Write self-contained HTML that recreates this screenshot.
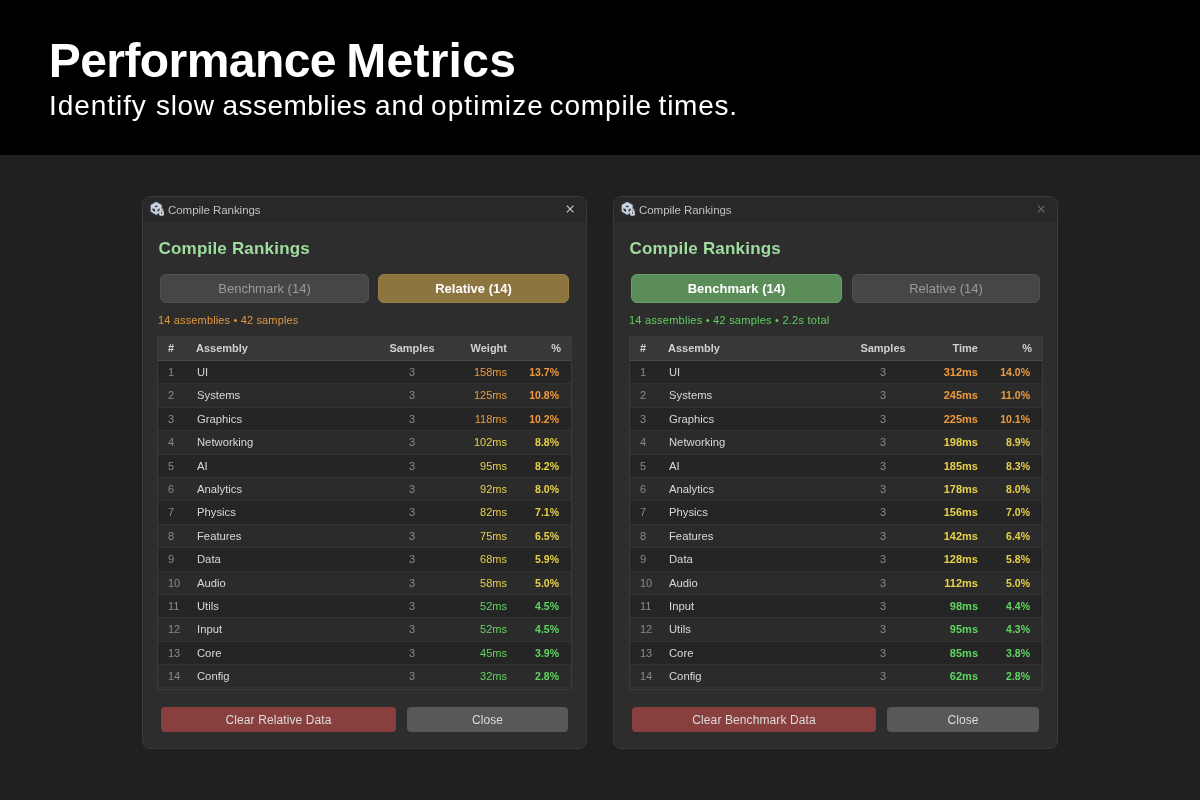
<!DOCTYPE html>
<html><head><meta charset="utf-8"><title>Performance Metrics</title>
<style>
*{box-sizing:border-box;margin:0;padding:0}
html,body{width:1200px;height:800px;overflow:hidden;background:#202020;font-family:"Liberation Sans",sans-serif;}
.top{will-change:transform;position:absolute;left:0;top:0;width:1200px;height:155px;background:#000;}
.title{position:absolute;top:33px;font-size:48px;font-weight:bold;color:#fff;white-space:nowrap;line-height:56px}
.sub{position:absolute;top:89px;font-size:28px;color:#fff;white-space:nowrap;line-height:34px}
.win{will-change:transform;position:absolute;top:196px;width:445px;height:553px;background:#2d2d2d;border:1px solid #3a3a3a;border-radius:8px;overflow:hidden}
.tb{position:absolute;left:0;top:0;width:100%;height:25px;background:#282828}
.ico{position:absolute;left:7px;top:4px;overflow:visible}
.tt{position:absolute;left:25px;top:6px;font-size:11.5px;letter-spacing:-0.05px;color:#c0c0c0;line-height:15px;white-space:nowrap}
.x{position:absolute;left:423px;top:8px;overflow:visible;color:#d0d0d0}
.wr .x{color:#6a6a6a}
.h1{position:absolute;left:15.5px;top:41px;font-size:17px;letter-spacing:0.2px;font-weight:bold;color:#9fdc9f;line-height:22px;white-space:nowrap}
.tab{position:absolute;top:77px;height:29px;border-radius:6px;background:#464646;border:1px solid #525252;color:#9a9a9a;font-size:13px;text-align:center;line-height:27px}
.t1{left:17px;width:209px}.t2{left:235px;width:191px}
.wr .t1{width:211px}.wr .t2{left:238px;width:188px}
.on-y{background:#8d7540;border-color:#9c8044;color:#fff;font-weight:bold}
.on-g{background:#5b8d58;border-color:#69a066;color:#fff;font-weight:bold}
.stat{position:absolute;left:15px;top:116px;font-size:11px;letter-spacing:0.15px;line-height:14px;white-space:nowrap}
.so{color:#e0963c}.sg{color:#5fd05f;letter-spacing:0.24px}
.tbl{position:absolute;left:14px;top:139px;width:415px;height:354px;border:1px solid #3b3b3b;background:#2a2a2a}
.hd{position:relative;height:24px;background:#383838;border-bottom:1px solid #4a4a4a;font-weight:bold;color:#d0d0d0;font-size:11px;line-height:23px}
.r{position:relative;height:23.4px;font-size:11px;line-height:23px;color:#d8d8d8;border-bottom:1px solid #323232}
.r.a{background:#252525}.r.b{background:#2b2b2b}
.r span,.hd span{position:absolute;top:0;white-space:nowrap}
.c1{left:10px;color:#8a8a8a}.hd .c1{color:#d0d0d0}
.c2{left:39px}
.hd .c2{left:38px}
.r .c2{font-size:11.25px}
.c3{left:215px;width:76px;text-align:center;color:#8a8a8a}.hd .c3{color:#d0d0d0}
.c4{right:64px;text-align:right}
.r .c4{font-size:11px}
.c5{right:10px;text-align:right;font-weight:bold}
.r .c5{font-size:10.5px;right:12px}
.o{color:#ee9a3c}.y{color:#e8d04a}.g{color:#5fd65f}
.bt{font-weight:bold}
.btn{position:absolute;top:510px;height:25px;border-radius:4px;font-size:12px;text-align:center;line-height:27px;color:#dcdcdc;letter-spacing:0.1px}
.red{left:18px;width:235px;background:#8a3f3f}
.gray{left:264px;width:161px;background:#585858}
.wr .red{width:244px}.wr .gray{left:273px;width:152px}

.wr .tbl{left:15px;width:414px}
.wl .c3{left:216px}

</style></head><body>
<div class="top"><span class="title" style="left:48.75px;letter-spacing:-0.575px">Performance</span><span class="title" style="left:346.25px;letter-spacing:0.25px">Metrics</span><span class="sub" style="left:49.1px;letter-spacing:0.929px">Identify</span><span class="sub" style="left:156px;letter-spacing:0.667px">slow</span><span class="sub" style="left:222.6px;letter-spacing:0.433px">assemblies</span><span class="sub" style="left:375px;letter-spacing:1.0px">and</span><span class="sub" style="left:431px;letter-spacing:1.08px">optimize</span><span class="sub" style="left:549.6px;letter-spacing:0.85px">compile</span><span class="sub" style="left:658.6px;letter-spacing:0.76px">times.</span></div>
<div class="win wl" style="left:142px">
<div class="tb"><svg class="ico" viewBox="0 0 16 16" width="16" height="16"><path d="M6.2 0.6L11.9 3.8V10.6L6.2 14L0.5 10.6V3.8Z" fill="#5c7fa8" opacity="0.55" style="filter:blur(0.9px)"/><path d="M6.2 0.9L11.6 4V10.4L6.2 13.7L0.8 10.4V4Z" fill="#ccd6e3"/><path d="M6.2 4.2L8.2 5.4L6.2 6.6L4.2 5.4Z" fill="#46505e"/><path d="M2.5 7.0L5.0 8.4V11.0L2.5 9.6Z" fill="#2e3238"/><path d="M9.7 7.2L7.5 8.5V11.0L9.7 9.7Z" fill="#3a4048"/><path d="M6.2 7.2V13.4" stroke="#aab6c6" stroke-width="0.6"/><path d="M10.2 10.2V9.3a1.35 1.35 0 0 1 2.7 0V10.2" fill="none" stroke="#d2d2d6" stroke-width="1.1"/><rect x="9.2" y="9.9" width="4.7" height="4.8" rx="1.2" fill="#d4d4d8"/><path d="M11.55 11.1a0.7 0.7 0 0 1 0.35 1.3V13.2H11.2V12.4a0.7 0.7 0 0 1 0.35-1.3Z" fill="#4a4a50"/></svg><span class="tt">Compile Rankings</span><svg class="x" viewBox="0 0 8 8" width="8" height="8"><path d="M0.85 0.7L7.45 7.3M7.45 0.7L0.85 7.3" stroke="currentColor" stroke-width="1.1" fill="none"/></svg></div>
<div class="h1">Compile Rankings</div>
<div class="tab t1">Benchmark (14)</div><div class="tab on-y t2">Relative (14)</div>
<div class="stat so">14 assemblies • 42 samples</div>
<div class="tbl">
<div class="hd"><span class="c1">#</span><span class="c2">Assembly</span><span class="c3">Samples</span><span class="c4">Weight</span><span class="c5">%</span></div>
<div class="r a"><span class="c1">1</span><span class="c2">UI</span><span class="c3">3</span><span class="c4 o">158ms</span><span class="c5 o">13.7%</span></div>
<div class="r b"><span class="c1">2</span><span class="c2">Systems</span><span class="c3">3</span><span class="c4 o">125ms</span><span class="c5 o">10.8%</span></div>
<div class="r a"><span class="c1">3</span><span class="c2">Graphics</span><span class="c3">3</span><span class="c4 o">118ms</span><span class="c5 o">10.2%</span></div>
<div class="r b"><span class="c1">4</span><span class="c2">Networking</span><span class="c3">3</span><span class="c4 y">102ms</span><span class="c5 y">8.8%</span></div>
<div class="r a"><span class="c1">5</span><span class="c2">AI</span><span class="c3">3</span><span class="c4 y">95ms</span><span class="c5 y">8.2%</span></div>
<div class="r b"><span class="c1">6</span><span class="c2">Analytics</span><span class="c3">3</span><span class="c4 y">92ms</span><span class="c5 y">8.0%</span></div>
<div class="r a"><span class="c1">7</span><span class="c2">Physics</span><span class="c3">3</span><span class="c4 y">82ms</span><span class="c5 y">7.1%</span></div>
<div class="r b"><span class="c1">8</span><span class="c2">Features</span><span class="c3">3</span><span class="c4 y">75ms</span><span class="c5 y">6.5%</span></div>
<div class="r a"><span class="c1">9</span><span class="c2">Data</span><span class="c3">3</span><span class="c4 y">68ms</span><span class="c5 y">5.9%</span></div>
<div class="r b"><span class="c1">10</span><span class="c2">Audio</span><span class="c3">3</span><span class="c4 y">58ms</span><span class="c5 y">5.0%</span></div>
<div class="r a"><span class="c1">11</span><span class="c2">Utils</span><span class="c3">3</span><span class="c4 g">52ms</span><span class="c5 g">4.5%</span></div>
<div class="r b"><span class="c1">12</span><span class="c2">Input</span><span class="c3">3</span><span class="c4 g">52ms</span><span class="c5 g">4.5%</span></div>
<div class="r a"><span class="c1">13</span><span class="c2">Core</span><span class="c3">3</span><span class="c4 g">45ms</span><span class="c5 g">3.9%</span></div>
<div class="r b"><span class="c1">14</span><span class="c2">Config</span><span class="c3">3</span><span class="c4 g">32ms</span><span class="c5 g">2.8%</span></div>
</div>
<div class="btn red">Clear Relative Data</div><div class="btn gray">Close</div>
</div>
<div class="win wr" style="left:613px">
<div class="tb"><svg class="ico" viewBox="0 0 16 16" width="16" height="16"><path d="M6.2 0.6L11.9 3.8V10.6L6.2 14L0.5 10.6V3.8Z" fill="#5c7fa8" opacity="0.55" style="filter:blur(0.9px)"/><path d="M6.2 0.9L11.6 4V10.4L6.2 13.7L0.8 10.4V4Z" fill="#ccd6e3"/><path d="M6.2 4.2L8.2 5.4L6.2 6.6L4.2 5.4Z" fill="#46505e"/><path d="M2.5 7.0L5.0 8.4V11.0L2.5 9.6Z" fill="#2e3238"/><path d="M9.7 7.2L7.5 8.5V11.0L9.7 9.7Z" fill="#3a4048"/><path d="M6.2 7.2V13.4" stroke="#aab6c6" stroke-width="0.6"/><path d="M10.2 10.2V9.3a1.35 1.35 0 0 1 2.7 0V10.2" fill="none" stroke="#d2d2d6" stroke-width="1.1"/><rect x="9.2" y="9.9" width="4.7" height="4.8" rx="1.2" fill="#d4d4d8"/><path d="M11.55 11.1a0.7 0.7 0 0 1 0.35 1.3V13.2H11.2V12.4a0.7 0.7 0 0 1 0.35-1.3Z" fill="#4a4a50"/></svg><span class="tt">Compile Rankings</span><svg class="x" viewBox="0 0 8 8" width="8" height="8"><path d="M0.85 0.7L7.45 7.3M7.45 0.7L0.85 7.3" stroke="currentColor" stroke-width="1.1" fill="none"/></svg></div>
<div class="h1">Compile Rankings</div>
<div class="tab on-g t1">Benchmark (14)</div><div class="tab t2">Relative (14)</div>
<div class="stat sg">14 assemblies • 42 samples • 2.2s total</div>
<div class="tbl">
<div class="hd"><span class="c1">#</span><span class="c2">Assembly</span><span class="c3">Samples</span><span class="c4">Time</span><span class="c5">%</span></div>
<div class="r a"><span class="c1">1</span><span class="c2">UI</span><span class="c3">3</span><span class="c4 o bt">312ms</span><span class="c5 o">14.0%</span></div>
<div class="r b"><span class="c1">2</span><span class="c2">Systems</span><span class="c3">3</span><span class="c4 o bt">245ms</span><span class="c5 o">11.0%</span></div>
<div class="r a"><span class="c1">3</span><span class="c2">Graphics</span><span class="c3">3</span><span class="c4 o bt">225ms</span><span class="c5 o">10.1%</span></div>
<div class="r b"><span class="c1">4</span><span class="c2">Networking</span><span class="c3">3</span><span class="c4 y bt">198ms</span><span class="c5 y">8.9%</span></div>
<div class="r a"><span class="c1">5</span><span class="c2">AI</span><span class="c3">3</span><span class="c4 y bt">185ms</span><span class="c5 y">8.3%</span></div>
<div class="r b"><span class="c1">6</span><span class="c2">Analytics</span><span class="c3">3</span><span class="c4 y bt">178ms</span><span class="c5 y">8.0%</span></div>
<div class="r a"><span class="c1">7</span><span class="c2">Physics</span><span class="c3">3</span><span class="c4 y bt">156ms</span><span class="c5 y">7.0%</span></div>
<div class="r b"><span class="c1">8</span><span class="c2">Features</span><span class="c3">3</span><span class="c4 y bt">142ms</span><span class="c5 y">6.4%</span></div>
<div class="r a"><span class="c1">9</span><span class="c2">Data</span><span class="c3">3</span><span class="c4 y bt">128ms</span><span class="c5 y">5.8%</span></div>
<div class="r b"><span class="c1">10</span><span class="c2">Audio</span><span class="c3">3</span><span class="c4 y bt">112ms</span><span class="c5 y">5.0%</span></div>
<div class="r a"><span class="c1">11</span><span class="c2">Input</span><span class="c3">3</span><span class="c4 g bt">98ms</span><span class="c5 g">4.4%</span></div>
<div class="r b"><span class="c1">12</span><span class="c2">Utils</span><span class="c3">3</span><span class="c4 g bt">95ms</span><span class="c5 g">4.3%</span></div>
<div class="r a"><span class="c1">13</span><span class="c2">Core</span><span class="c3">3</span><span class="c4 g bt">85ms</span><span class="c5 g">3.8%</span></div>
<div class="r b"><span class="c1">14</span><span class="c2">Config</span><span class="c3">3</span><span class="c4 g bt">62ms</span><span class="c5 g">2.8%</span></div>
</div>
<div class="btn red">Clear Benchmark Data</div><div class="btn gray">Close</div>
</div>
</body></html>
